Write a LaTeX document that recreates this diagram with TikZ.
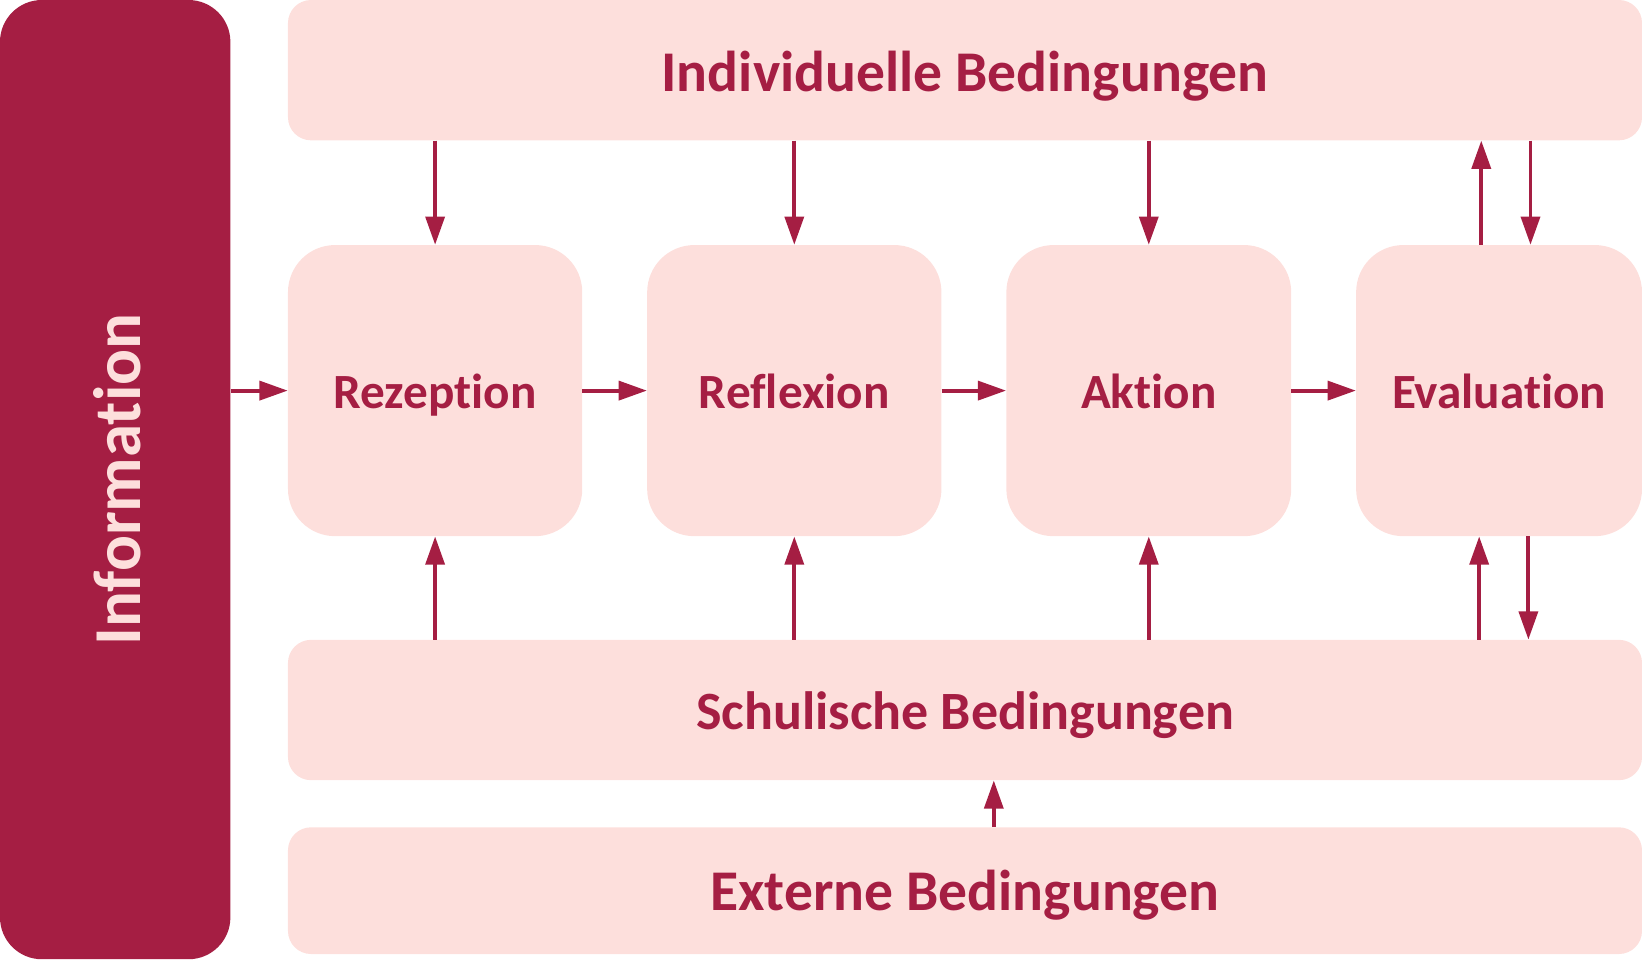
\documentclass[tikz,border=0pt]{standalone}
\usepackage{fontspec}
\setmainfont{Carlito}[Ligatures=NoCommon]
\usetikzlibrary{arrows.meta}
\definecolor{dark}{HTML}{A51E43}
\definecolor{light}{HTML}{FDDFDC}
\tikzset{
  x=1pt, y=-1pt,
  box/.style={fill=light, draw=none, inner sep=0pt, text=dark, text depth=0pt},
  wide/.style={box, minimum width=1293pt, rounded corners=22pt},
  mid/.style={box, minimum height=278pt, rounded corners=45pt, text height=34pt, font=\bfseries\fontsize{47}{52}\selectfont},
  big/.style={font=\bfseries\fontsize{55}{60}\selectfont},
  arr/.style={draw=dark, line width=3.8pt, -{Triangle[length=27pt,width=18pt]}},
}
\begin{document}
\begin{tikzpicture}
\useasboundingbox (0,0) rectangle (1568,918.6);
\node[fill=dark, rounded corners=40pt, minimum width=220pt, minimum height=916pt, inner sep=0pt] (info) at (110,458) {};
\node[rotate=90, text=light, font=\bfseries\fontsize{64}{70}\selectfont] (infot) at (112,458) {Information};
\node[wide, big, minimum height=134pt, text height=41pt] (ind) at (921.5,67) {Individuelle Bedingungen};
\node[mid, minimum width=281pt] (rez) at (415.5,373) {Rezeption};
\node[mid, minimum width=281pt] (ref) at (758.5,373) {Reflexion};
\node[mid, minimum width=272pt] (akt) at (1097,373) {Aktion};
\node[mid, minimum width=273pt] (eva) at (1431.5,373) {Evaluation};
\node[wide, minimum height=134pt, text height=38pt, font=\bfseries\fontsize{51.5}{56}\selectfont] (sch) at (921.5,678) {Schulische Bedingungen};
\node[wide, big, minimum height=121pt, text height=37pt] (ext) at (921.5,850.5) {Externe Bedingungen};
% horizontal
\draw[arr] (info.east |- rez.west) -- (rez.west);
\draw[arr] (rez.east) -- (ref.west);
\draw[arr] (ref.east) -- (akt.west);
\draw[arr] (akt.east) -- (eva.west);
% from top
\draw[arr] (ind.south -| rez.north) -- (rez.north);
\draw[arr] (ind.south -| ref.north) -- (ref.north);
\draw[arr] (ind.south -| akt.north) -- (akt.north);
\draw[arr] ([xshift=-17pt]eva.north) -- ([xshift=-17pt]eva.north |- ind.south);
\draw[arr] ([xshift=30pt]eva.north |- ind.south) -- ([xshift=30pt]eva.north);
% from bottom
\draw[arr] (sch.north -| rez.south) -- (rez.south);
\draw[arr] (sch.north -| ref.south) -- (ref.south);
\draw[arr] (sch.north -| akt.south) -- (akt.south);
\draw[arr] ([xshift=-19pt]eva.south |- sch.north) -- ([xshift=-19pt]eva.south);
\draw[arr] ([xshift=28pt]eva.south) -- ([xshift=28pt]eva.south |- sch.north);
\draw[arr] ([xshift=27.5pt]ext.north) -- ([xshift=27.5pt]ext.north |- sch.south);
\end{tikzpicture}
\end{document}
